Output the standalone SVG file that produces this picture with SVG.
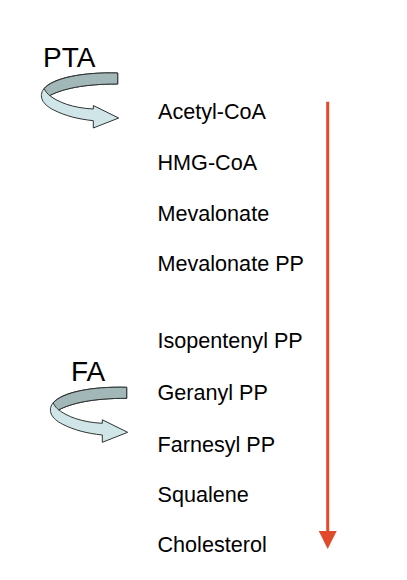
<svg xmlns="http://www.w3.org/2000/svg" xmlns:xlink="http://www.w3.org/1999/xlink" width="407" height="580" viewBox="0 0 407 580">
  <style>
    .lbl { font-family: "Liberation Sans", Arial, sans-serif; font-size: 21.6px; fill: #000; }
    .big { font-family: "Liberation Sans", Arial, sans-serif; font-size: 28px; fill: #000; }
    .front { fill: #cfe5e7; stroke: #2e3333; stroke-width: 1; stroke-linejoin: round; }
    .back { fill: #a2b7b8; stroke: #2e3333; stroke-width: 1; stroke-linejoin: round; }
    .flow { stroke: #e04a2b; stroke-width: 3; fill: none; }
  </style>
  <defs>
    <g id="ribbon">
      <path class="front" d="M0,0 C-35,-1 -66,5 -74,16 C-79,23 -76,31 -64,37 C-52,43 -40,46 -24.4,47.7 L-24.4,55 L1,45 L-24.4,32.5 L-24.4,36 C-45,35 -60,29 -68,22.5 C-55,16 -35,11 0,11 Z"/>
      <path class="back" d="M0,0 C-35,-1 -64,5 -73.5,15.5 C-72,19 -70,21 -68,22.5 C-55,16 -35,11 0,11 Z"/>
    </g>
    <marker id="ah" markerUnits="userSpaceOnUse" markerWidth="18" markerHeight="18" refX="0" refY="9" orient="auto" viewBox="0 0 18 18">
      <path d="M0,0 L18,9 L0,18 Z" fill="#e04a2b"/>
    </marker>
  </defs>
  <rect width="407" height="580" fill="#ffffff"/>

  <g id="pta">
    <text class="big" x="43" y="67">PTA</text>
    <use xlink:href="#ribbon" transform="translate(117.7,73)"/>
  </g>
  <g id="fa">
    <text class="big" x="71" y="381">FA</text>
    <use xlink:href="#ribbon" transform="translate(126.7,387.3)"/>
  </g>

  <g id="connectors">
    <line class="flow" x1="327.7" y1="101.7" x2="327.7" y2="531" marker-end="url(#ah)"/>
  </g>

  <g id="acetyl-coa"><text class="lbl" x="158" y="119">Acetyl-CoA</text></g>
  <g id="hmg-coa"><text class="lbl" x="157.5" y="170">HMG-CoA</text></g>
  <g id="mevalonate"><text class="lbl" x="157.5" y="221">Mevalonate</text></g>
  <g id="mevalonate-pp"><text class="lbl" x="157.5" y="271">Mevalonate PP</text></g>
  <g id="isopentenyl-pp"><text class="lbl" x="157.5" y="348">Isopentenyl PP</text></g>
  <g id="geranyl-pp"><text class="lbl" x="157.5" y="400">Geranyl PP</text></g>
  <g id="farnesyl-pp"><text class="lbl" x="157.5" y="452">Farnesyl PP</text></g>
  <g id="squalene"><text class="lbl" x="157.5" y="502">Squalene</text></g>
  <g id="cholesterol"><text class="lbl" x="157.5" y="552">Cholesterol</text></g>
</svg>
